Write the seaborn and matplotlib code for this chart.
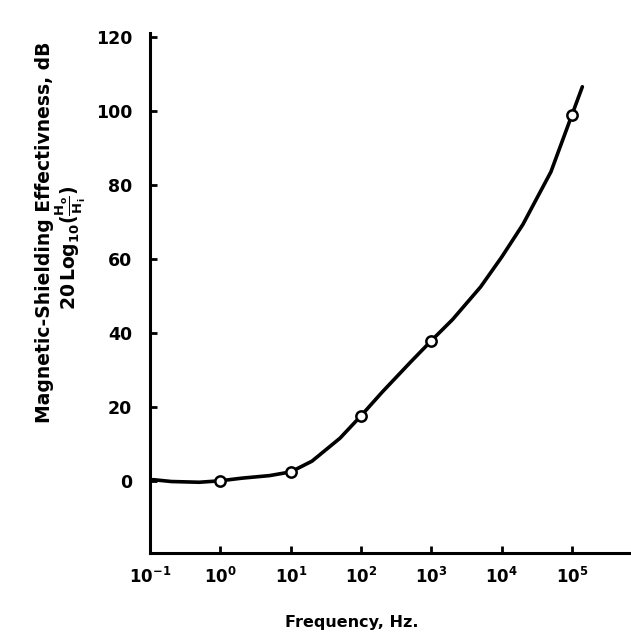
import numpy as np
import matplotlib
matplotlib.use("Agg")
import matplotlib.pyplot as plt
import seaborn as sns
import pandas as pd

# smooth curve (frequency in Hz, shielding in dB)
curve_freq = [0.11, 0.2, 0.5, 1, 2, 5, 10, 20, 50, 100, 200, 500,
              1000, 2000, 5000, 1e4, 2e4, 5e4, 1e5, 1.4e5]
curve_db = [0.3, -0.2, -0.4, 0, 0.7, 1.4, 2.4, 5.3, 11.5, 17.6, 24, 32,
            37.9, 43.6, 52.4, 60.5, 69.3, 83.5, 99, 106.5]

# measured points (open circles)
meas_freq = [1, 10, 100, 1000, 1e5]
meas_db = [0, 2.4, 17.6, 37.9, 99]

xtick_vals = [0.1, 1, 10, 100, 1000, 1e4, 1e5]
xtick_labels = ["$\\mathbf{10^{-1}}$", "$\\mathbf{10^{0}}$", "$\\mathbf{10^{1}}$",
                "$\\mathbf{10^{2}}$", "$\\mathbf{10^{3}}$", "$\\mathbf{10^{4}}$",
                "$\\mathbf{10^{5}}$"]
ytick_vals = [0, 20, 40, 60, 80, 100, 120]

sns.set_style("ticks")
plt.rcParams["font.family"] = ["DejaVu Sans"]

fig = plt.figure(figsize=(6.31, 6.37), dpi=100)
ax = fig.add_axes([0.238, 0.132, 0.76, 0.816])

df_curve = pd.DataFrame({"f": curve_freq, "db": curve_db})
df_meas = pd.DataFrame({"f": meas_freq, "db": meas_db})

sns.lineplot(data=df_curve, x="f", y="db", ax=ax, color="black", lw=2.6, sort=False)
sns.scatterplot(data=df_meas, x="f", y="db", ax=ax, s=55, facecolor="white",
                edgecolor="black", linewidth=1.8, zorder=5)

ax.set_xscale("log")
ax.set_xlim(0.105, 10 ** 5.82)
ax.set_ylim(-19.5, 121)
ax.set_xticks(xtick_vals)
ax.set_xticklabels(xtick_labels, fontsize=12, color="black")
ax.minorticks_off()
ax.set_yticks(ytick_vals)
ax.set_yticklabels([str(v) for v in ytick_vals], fontsize=12.5,
                   fontweight="bold", color="black")
ax.tick_params(direction="in", length=5, width=2, pad=10, color="black")
ax.tick_params(axis="y", pad=13)

sns.despine(ax=ax)
for s in ["left", "bottom"]:
    ax.spines[s].set_linewidth(2.2)
    ax.spines[s].set_color("black")

ax.set_xlabel("")
ax.set_ylabel("")
fig.text(0.07, 0.635, "Magnetic-Shielding Effectivness, dB", rotation=90,
         ha="center", va="center", fontsize=13.5, fontweight="bold", color="black")
fig.text(0.112, 0.61, "$\\mathbf{20\\,Log_{10}(\\frac{H_o}{H_i})}$", rotation=90,
         ha="center", va="center", fontsize=13.5, color="black")
fig.text(0.558, 0.023, "Frequency, Hz.", ha="center", va="center",
         fontsize=11.5, fontweight="bold", color="black")

fig.savefig("out.png", dpi=100)
